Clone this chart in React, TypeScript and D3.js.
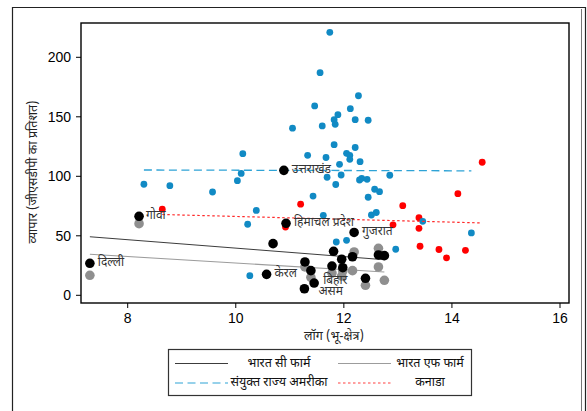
import * as d3 from 'd3';

// log(area) / trade (% of GSDP)
const usaX = [8.3, 8.78, 9.57, 10.03, 10.1, 10.13, 10.22, 10.26, 10.38, 11.05, 11.33, 11.43, 11.46, 11.56, 11.6, 11.62, 11.67, 11.69, 11.74, 11.82, 11.84, 11.82, 11.85, 11.86, 11.89, 11.92, 11.95, 12.05, 12.05, 12.11, 12.11, 12.12, 12.21, 12.21, 12.27, 12.29, 12.3, 12.33, 12.43, 12.45, 12.45, 12.51, 12.57, 12.6, 12.66, 12.85, 12.96, 13.46, 14.36];
const usaY = [93.3, 92.1, 86.8, 96.3, 102.4, 119, 59.7, 16.5, 71.3, 140.4, 117.6, 83.4, 159.1, 187.1, 142.3, 67.2, 115.8, 99.2, 221, 147.6, 143.7, 126.6, 93.1, 44.8, 151.8, 110.1, 101.1, 119.3, 46.2, 117.6, 114.3, 156.8, 147.6, 124.2, 167.7, 96.9, 112.3, 98.3, 97.5, 147.1, 82.4, 67.5, 89.1, 69.6, 87.1, 100.9, 38.7, 62.2, 52.4];

const canX = [8.64, 10.92, 11.2, 12.91, 13.09, 13.39, 13.39, 13.41, 13.76, 13.9, 14.11, 14.25, 14.56];
const canY = [72.4, 57.4, 76.6, 59.2, 75.3, 65.2, 56.3, 41.2, 38.5, 31.5, 85.4, 37.8, 111.8];

const indCX = [7.3, 8.21, 10.57, 10.89, 10.93, 12.19, 11.45, 11.27, 10.69, 11.28, 11.39, 11.78, 11.81, 11.96, 11.98, 12.16, 12.4, 12.64, 12.75];
const indCY = [26.9, 66.4, 17.6, 105, 60.5, 52.8, 10.3, 5.5, 43.4, 28, 20.7, 24.6, 37, 30.3, 23.2, 32.4, 14.3, 33.9, 33.3];

const indFX = [7.3, 8.21, 11.39, 11.28, 11.78, 11.96, 11.98, 12.16, 12.19, 12.64, 12.64, 12.75, 12.4];
const indFY = [16.8, 60.2, 15.1, 23.8, 18.7, 16.2, 20.4, 20.7, 36.4, 39.5, 23.8, 12.6, 8.4];

// labelled states: index into indC
const stateNames = ['दिल्ली', 'गोवा', 'केरल', 'उत्तराखंड', 'हिमाचल प्रदेश', 'गुजरात', 'बिहार', 'असम'];
const stateIdx = [0, 1, 2, 3, 4, 5, 6, 7];

// fitted lines: [x0, y0, x1, y1]
const fitIndC = [7.3, 49.2, 12.75, 29.9];
const fitIndF = [7.3, 34.5, 12.75, 19.6];
const fitUsa = [8.3, 105.3, 14.36, 104.6];
const fitCan = [8.64, 67.9, 14.56, 60.8];

const xTicks = [8, 10, 12, 14, 16];
const yTicks = [0, 50, 100, 150, 200];

const legendNames = ['भारत सी फार्म', 'भारत एफ फार्म', 'संयुक्त राज्य अमरीका', 'कनाडा'];

const W = 587;
const H = 411;
const plot = { left: 81, right: 569, top: 23, bottom: 303 };
const DEVA = "'Noto Sans Devanagari', 'Lohit Devanagari', 'FreeSans', 'Noto Sans', sans-serif";
const NUM = "'Liberation Sans', Arial, sans-serif";

const BLUE = '#118ac4';
const RED = '#ff0000';
const GRAY = '#8f8f8f';

export default function App() {
  const x = d3.scaleLinear().domain([8, 16]).range([127.7, 560]);
  const y = d3.scaleLinear().domain([0, 200]).range([295.3, 57.3]);

  const fitLine = (f: number[]) =>
    d3.line<[number, number]>().x((d) => x(d[0])).y((d) => y(d[1]))([
      [f[0], f[1]],
      [f[2], f[3]],
    ]) ?? '';

  const lines = [
    { f: fitIndC, stroke: '#3c3c3c', dash: undefined, w: 1 },
    { f: fitIndF, stroke: '#9c9c9c', dash: undefined, w: 1.1 },
    { f: fitUsa, stroke: '#2ea3d6', dash: '8 4.5', w: 1.3 },
    { f: fitCan, stroke: '#ff2a2a', dash: '2.5 2.5', w: 1.2 },
  ];

  // label nudges (px) relative to the point
  const labelDx = [8, 7, 8, 8, 8, 8, 9, 14];
  const labelDy = [0, 0, 0, 0, 0, 0, -2, 3];

  const legendRows = [
    [
      { stroke: '#3c3c3c', dash: undefined, name: legendNames[0] },
      { stroke: '#9c9c9c', dash: undefined, name: legendNames[1] },
    ],
    [
      { stroke: '#2ea3d6', dash: '8 4.5', name: legendNames[2] },
      { stroke: '#ff4040', dash: '2.5 2.5', name: legendNames[3] },
    ],
  ];
  const legendCols = [
    { x0: 175, x1: 228, tx: 279 },
    { x0: 338, x1: 391, tx: 430 },
  ];
  const legendRowY = [363.5, 383];

  return (
    <svg
      width={W}
      height={H}
      style={{ position: 'absolute', left: 0, top: 0, background: '#fff' }}
    >
      {/* outer frame */}
      <path d={`M12.5,${H + 5} V7.5 H585.5 V${H + 5}`} fill='none' stroke='#222' strokeWidth={1.2} />
      <line x1={581.5} x2={581.5} y1={9} y2={H + 5} stroke='#777' strokeWidth={1} />

      {/* plot region */}
      <rect
        x={plot.left}
        y={plot.top}
        width={plot.right - plot.left}
        height={plot.bottom - plot.top}
        fill='none'
        stroke='#000'
        strokeWidth={1.4}
      />

      {/* y axis */}
      {yTicks.map((t) => (
        <g key={t}>
          <line x1={plot.left - 5} x2={plot.left} y1={y(t)} y2={y(t)} stroke='#000' />
          <text
            x={plot.left - 10}
            y={y(t)}
            textAnchor='end'
            dominantBaseline='central'
            fontFamily={NUM}
            fontSize={14}
          >
            {t}
          </text>
        </g>
      ))}

      {/* x axis */}
      {xTicks.map((t) => (
        <g key={t}>
          <line x1={x(t)} x2={x(t)} y1={plot.bottom} y2={plot.bottom + 5} stroke='#000' />
          <text x={x(t)} y={323} textAnchor='middle' fontFamily={NUM} fontSize={14}>
            {t}
          </text>
        </g>
      ))}

      {/* axis titles */}
      <text x={334} y={340} textAnchor='middle' fontFamily={DEVA} fontSize={12.5} fill='#222'>
        लॉग (भू-क्षेत्र)
      </text>
      <text
        transform='translate(37,172) rotate(-90)'
        textAnchor='middle'
        fontFamily={DEVA}
        fontSize={12.5}
        fill='#222'
      >
        व्यापार (जीएसडीपी का प्रतिशत)
      </text>

      {/* Canada & USA points */}
      {canX.map((v, i) => (
        <circle key={`c${i}`} cx={x(v)} cy={y(canY[i])} r={3.4} fill={RED} />
      ))}
      {usaX.map((v, i) => (
        <circle key={`u${i}`} cx={x(v)} cy={y(usaY[i])} r={3.4} fill={BLUE} />
      ))}

      {/* fitted lines */}
      {lines.map((l, i) => (
        <path
          key={i}
          d={fitLine(l.f)}
          fill='none'
          stroke={l.stroke}
          strokeWidth={l.w}
          strokeDasharray={l.dash}
        />
      ))}

      {/* India points */}
      {indFX.map((v, i) => (
        <circle key={`f${i}`} cx={x(v)} cy={y(indFY[i])} r={4.8} fill={GRAY} />
      ))}
      {indCX.map((v, i) => (
        <circle key={`k${i}`} cx={x(v)} cy={y(indCY[i])} r={4.8} fill='#000' />
      ))}

      {/* state labels */}
      {stateIdx.map((k, i) => (
        <text
          key={`l${i}`}
          x={x(indCX[k]) + labelDx[i]}
          y={y(indCY[k]) + labelDy[i]}
          dominantBaseline='central'
          fontFamily={DEVA}
          fontSize={12}
          fill='#333'
        >
          {stateNames[i]}
        </text>
      ))}

      {/* legend */}
      <rect x={168.5} y={349.5} width={303} height={46} fill='#fff' stroke='#333' strokeWidth={1.2} />
      {legendRows.map((row, r) =>
        row.map((it, c) => (
          <g key={`${r}-${c}`}>
            <line
              x1={legendCols[c].x0}
              x2={legendCols[c].x1}
              y1={legendRowY[r]}
              y2={legendRowY[r]}
              stroke={it.stroke}
              strokeWidth={1.2}
              strokeDasharray={it.dash}
            />
            <text
              x={legendCols[c].tx}
              y={legendRowY[r]}
              textAnchor='middle'
              dominantBaseline='central'
              fontFamily={DEVA}
              fontSize={12.5}
              fill='#111'
            >
              {it.name}
            </text>
          </g>
        ))
      )}
    </svg>
  );
}
